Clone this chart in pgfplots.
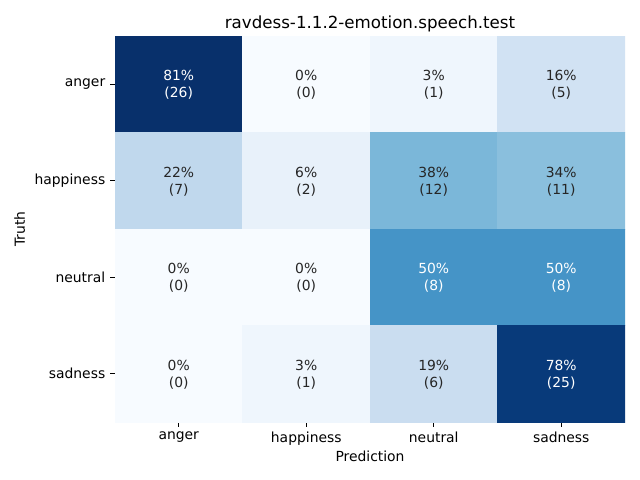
\documentclass[border=0pt]{standalone}
\usepackage{fontspec}
\setmainfont{DejaVu Sans}
\usepackage{pgfplots}
\pgfplotsset{compat=1.18}
\definecolor{darktxt}{HTML}{262626}
\begin{document}
\begin{tikzpicture}
\path[use as bounding box] (-82.8pt,-41.76pt) rectangle (378pt,303.84pt);
\begin{axis}[at={(0,0)}, anchor=south west, scale only axis,
  width=367.2pt, height=277.92pt,
  xmin=-0.5, xmax=3.5, ymin=-0.5, ymax=3.5, y dir=reverse,
  xtick={0,1,2,3}, xticklabels={anger,happiness,neutral,sadness},
  ytick={0,1,2,3}, yticklabels={anger,happiness,neutral,sadness},
  xtick pos=bottom, ytick pos=left,
  axis line style={draw=none},
  tick align=outside, major tick length=3.5pt,
  tick style={black, line width=0.8pt},
  colormap={blues}{rgb255=(247,251,255) rgb255=(222,235,247) rgb255=(198,219,239) rgb255=(158,202,225) rgb255=(107,174,214) rgb255=(66,146,198) rgb255=(33,113,181) rgb255=(8,81,156) rgb255=(8,48,107)},
  point meta min=0, point meta max=81.25,
  font=\fontsize{10}{12}\selectfont,
  ticklabel style={font=\fontsize{10}{12}\selectfont},
  label style={font=\fontsize{10}{12}\selectfont},
  xlabel style={yshift=2.5pt},
  title={ravdess-1.1.2-emotion.speech.test},
  title style={font=\fontsize{12}{14}\selectfont, yshift=-6.5pt},
  xlabel={Prediction}, ylabel={Truth},
]
\addplot[matrix plot*, mesh/cols=4, point meta=explicit] table[meta=c] {
x y c
0 0 81.25
1 0 0
2 0 3.125
3 0 15.625
0 1 21.875
1 1 6.25
2 1 37.5
3 1 34.375
0 2 0
1 2 0
2 2 50
3 2 50
0 3 0
1 3 3.125
2 3 18.75
3 3 78.125
};
\tikzset{cl/.style={align=center, font=\fontsize{10}{12.2}\selectfont, yshift=-0.7pt}}
\node[cl, text=white] at (axis cs:0,0) {81\%\\(26)};
\node[cl, text=darktxt] at (axis cs:1,0) {0\%\\(0)};
\node[cl, text=darktxt] at (axis cs:2,0) {3\%\\(1)};
\node[cl, text=darktxt] at (axis cs:3,0) {16\%\\(5)};
\node[cl, text=darktxt] at (axis cs:0,1) {22\%\\(7)};
\node[cl, text=darktxt] at (axis cs:1,1) {6\%\\(2)};
\node[cl, text=darktxt] at (axis cs:2,1) {38\%\\(12)};
\node[cl, text=darktxt] at (axis cs:3,1) {34\%\\(11)};
\node[cl, text=darktxt] at (axis cs:0,2) {0\%\\(0)};
\node[cl, text=darktxt] at (axis cs:1,2) {0\%\\(0)};
\node[cl, text=white] at (axis cs:2,2) {50\%\\(8)};
\node[cl, text=white] at (axis cs:3,2) {50\%\\(8)};
\node[cl, text=darktxt] at (axis cs:0,3) {0\%\\(0)};
\node[cl, text=darktxt] at (axis cs:1,3) {3\%\\(1)};
\node[cl, text=darktxt] at (axis cs:2,3) {19\%\\(6)};
\node[cl, text=white] at (axis cs:3,3) {78\%\\(25)};
\end{axis}
\end{tikzpicture}
\end{document}
